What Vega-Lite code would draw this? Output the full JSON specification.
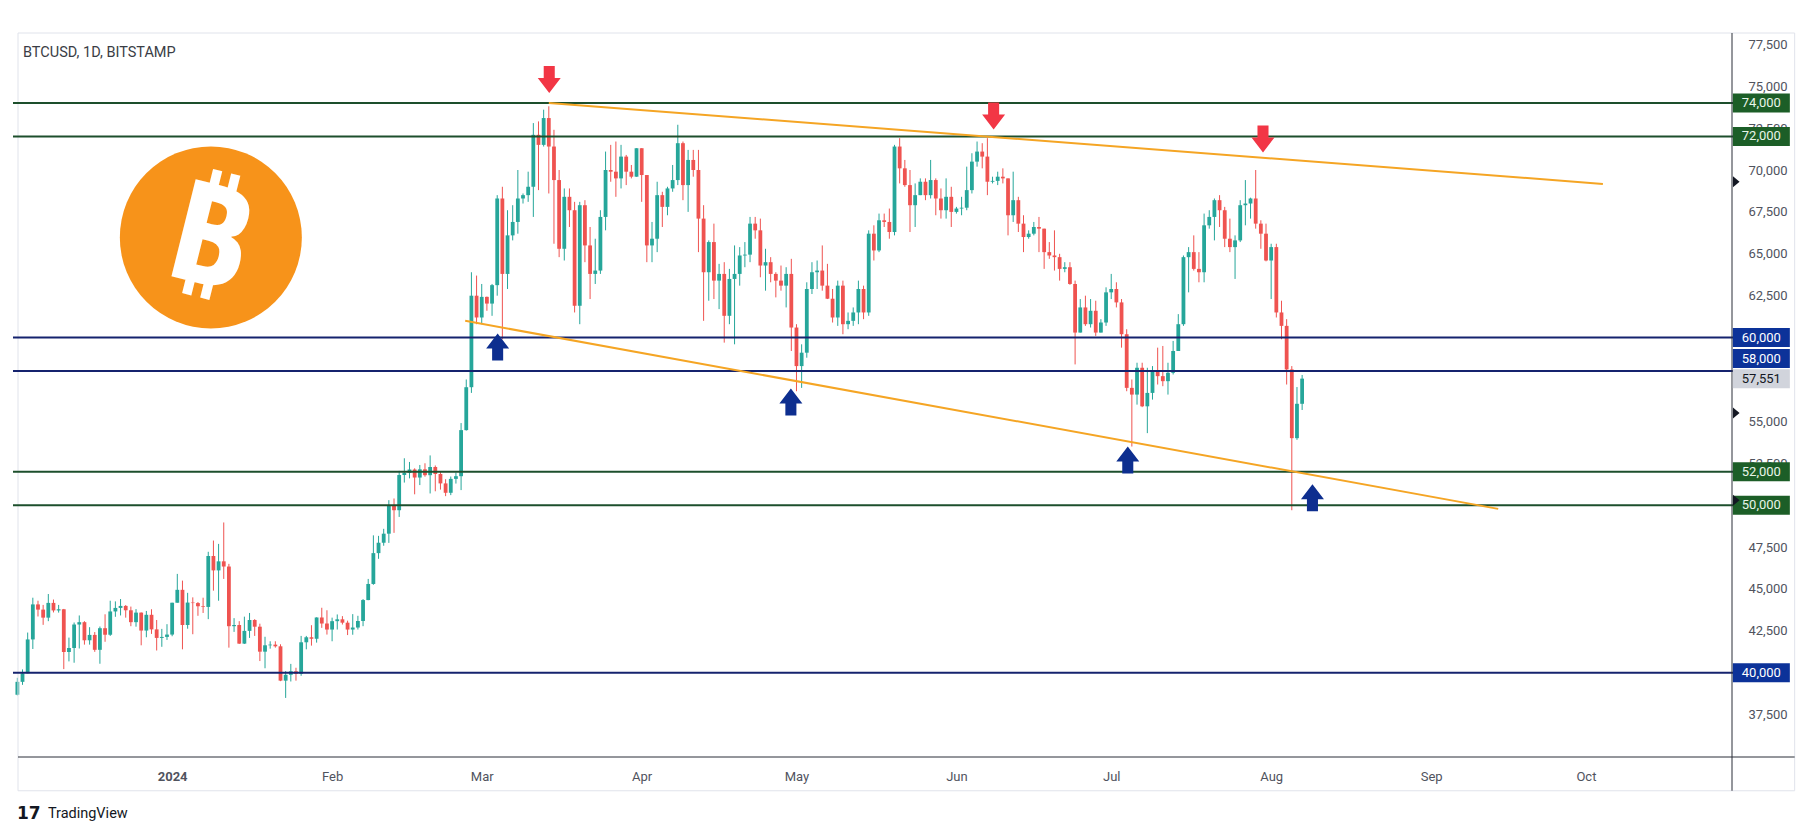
{
"$schema": "https://vega.github.io/schema/vega-lite/v6.json",
"width": 1724, "height": 724,
"autosize": {"type": "none"},
"padding": {"left": 13, "top": 33, "right": 78, "bottom": 79},
"background": "#ffffff",
"config": {"view": {"stroke": null}, "font": "Roboto"},
"title": {"text": "BTCUSD, 1D, BITSTAMP", "anchor": "start", "frame": "group", "offset": -42, "dx": 10, "fontSize": 14.5, "fontWeight": "normal", "font": "Roboto", "color": "#3a3d45", "baseline": "bottom"},
"datasets": {
"one": [{}],
"candles": [
{"d":"2023-12-02","o":38690,"h":39700,"l":38650,"c":39460},
{"d":"2023-12-03","o":39460,"h":40200,"l":39280,"c":39970},
{"d":"2023-12-04","o":39970,"h":42400,"l":39970,"c":41990},
{"d":"2023-12-05","o":41990,"h":44480,"l":41420,"c":44080},
{"d":"2023-12-06","o":44080,"h":44300,"l":43360,"c":43770},
{"d":"2023-12-07","o":43770,"h":44050,"l":42860,"c":43290},
{"d":"2023-12-08","o":43290,"h":44700,"l":43080,"c":44170},
{"d":"2023-12-09","o":44170,"h":44370,"l":43600,"c":43720},
{"d":"2023-12-10","o":43720,"h":44050,"l":43590,"c":43790},
{"d":"2023-12-11","o":43790,"h":43810,"l":40220,"c":41240},
{"d":"2023-12-12","o":41240,"h":42100,"l":40680,"c":41480},
{"d":"2023-12-13","o":41480,"h":43000,"l":40600,"c":42880},
{"d":"2023-12-14","o":42880,"h":43420,"l":41450,"c":43020},
{"d":"2023-12-15","o":43020,"h":43080,"l":41680,"c":41940},
{"d":"2023-12-16","o":41940,"h":42720,"l":41680,"c":42260},
{"d":"2023-12-17","o":42260,"h":42430,"l":41250,"c":41370},
{"d":"2023-12-18","o":41370,"h":42760,"l":40540,"c":42660},
{"d":"2023-12-19","o":42660,"h":43490,"l":41850,"c":42270},
{"d":"2023-12-20","o":42270,"h":44300,"l":42200,"c":43660},
{"d":"2023-12-21","o":43660,"h":44260,"l":43340,"c":43870},
{"d":"2023-12-22","o":43870,"h":44400,"l":43420,"c":43990},
{"d":"2023-12-23","o":43990,"h":44040,"l":43290,"c":43730},
{"d":"2023-12-24","o":43730,"h":43950,"l":42780,"c":43020},
{"d":"2023-12-25","o":43020,"h":43800,"l":42750,"c":43590},
{"d":"2023-12-26","o":43590,"h":43600,"l":41640,"c":42520},
{"d":"2023-12-27","o":42520,"h":43690,"l":42120,"c":43460},
{"d":"2023-12-28","o":43460,"h":43790,"l":42320,"c":42590},
{"d":"2023-12-29","o":42590,"h":43150,"l":41330,"c":42080},
{"d":"2023-12-30","o":42080,"h":42620,"l":41550,"c":42140},
{"d":"2023-12-31","o":42140,"h":42900,"l":41960,"c":42280},
{"d":"2024-01-01","o":42280,"h":44180,"l":42180,"c":44180},
{"d":"2024-01-02","o":44180,"h":45900,"l":44180,"c":44950},
{"d":"2024-01-03","o":44950,"h":45500,"l":41400,"c":42850},
{"d":"2024-01-04","o":42850,"h":44770,"l":42630,"c":44190},
{"d":"2024-01-05","o":44190,"h":44500,"l":42300,"c":44160},
{"d":"2024-01-06","o":44160,"h":44220,"l":43400,"c":43970},
{"d":"2024-01-07","o":43970,"h":44480,"l":43570,"c":43930},
{"d":"2024-01-08","o":43930,"h":47220,"l":43200,"c":46970},
{"d":"2024-01-09","o":46970,"h":47890,"l":44900,"c":46110},
{"d":"2024-01-10","o":46110,"h":47690,"l":44300,"c":46650},
{"d":"2024-01-11","o":46650,"h":48970,"l":45600,"c":46340},
{"d":"2024-01-12","o":46340,"h":46500,"l":41500,"c":42780},
{"d":"2024-01-13","o":42780,"h":43260,"l":42440,"c":42850},
{"d":"2024-01-14","o":42850,"h":43080,"l":41720,"c":41740},
{"d":"2024-01-15","o":41740,"h":43350,"l":41720,"c":42500},
{"d":"2024-01-16","o":42500,"h":43570,"l":42080,"c":43150},
{"d":"2024-01-17","o":43150,"h":43200,"l":42200,"c":42750},
{"d":"2024-01-18","o":42750,"h":42930,"l":40700,"c":41260},
{"d":"2024-01-19","o":41260,"h":42150,"l":40270,"c":41640},
{"d":"2024-01-20","o":41640,"h":41880,"l":41440,"c":41680},
{"d":"2024-01-21","o":41680,"h":41880,"l":41500,"c":41580},
{"d":"2024-01-22","o":41580,"h":41700,"l":39500,"c":39530},
{"d":"2024-01-23","o":39530,"h":40100,"l":38500,"c":39880},
{"d":"2024-01-24","o":39880,"h":40530,"l":39480,"c":40090},
{"d":"2024-01-25","o":40090,"h":40300,"l":39530,"c":39940},
{"d":"2024-01-26","o":39940,"h":42200,"l":39820,"c":41820},
{"d":"2024-01-27","o":41820,"h":42200,"l":41400,"c":42120},
{"d":"2024-01-28","o":42120,"h":42840,"l":41620,"c":42030},
{"d":"2024-01-29","o":42030,"h":43310,"l":41800,"c":43300},
{"d":"2024-01-30","o":43300,"h":43880,"l":42680,"c":42940},
{"d":"2024-01-31","o":42940,"h":43730,"l":42280,"c":42580},
{"d":"2024-02-01","o":42580,"h":43290,"l":41880,"c":43080},
{"d":"2024-02-02","o":43080,"h":43480,"l":42580,"c":43190},
{"d":"2024-02-03","o":43190,"h":43380,"l":42880,"c":42990},
{"d":"2024-02-04","o":42990,"h":43110,"l":42250,"c":42580},
{"d":"2024-02-05","o":42580,"h":43500,"l":42270,"c":42700},
{"d":"2024-02-06","o":42700,"h":43400,"l":42580,"c":43090},
{"d":"2024-02-07","o":43090,"h":44400,"l":42780,"c":44340},
{"d":"2024-02-08","o":44340,"h":45600,"l":44330,"c":45300},
{"d":"2024-02-09","o":45300,"h":48200,"l":45250,"c":47140},
{"d":"2024-02-10","o":47140,"h":48170,"l":46800,"c":47760},
{"d":"2024-02-11","o":47760,"h":48590,"l":47580,"c":48300},
{"d":"2024-02-12","o":48300,"h":50300,"l":47750,"c":49960},
{"d":"2024-02-13","o":49960,"h":50400,"l":48350,"c":49700},
{"d":"2024-02-14","o":49700,"h":52050,"l":49300,"c":51800},
{"d":"2024-02-15","o":51800,"h":52800,"l":51350,"c":51930},
{"d":"2024-02-16","o":51930,"h":52580,"l":51600,"c":52130},
{"d":"2024-02-17","o":52130,"h":52200,"l":50650,"c":51650},
{"d":"2024-02-18","o":51650,"h":52400,"l":51200,"c":52140},
{"d":"2024-02-19","o":52140,"h":52500,"l":51700,"c":51790},
{"d":"2024-02-20","o":51790,"h":52970,"l":50700,"c":52280},
{"d":"2024-02-21","o":52280,"h":52370,"l":50830,"c":51860},
{"d":"2024-02-22","o":51860,"h":52000,"l":50930,"c":51300},
{"d":"2024-02-23","o":51300,"h":51550,"l":50540,"c":50740},
{"d":"2024-02-24","o":50740,"h":51710,"l":50600,"c":51570},
{"d":"2024-02-25","o":51570,"h":51950,"l":51290,"c":51730},
{"d":"2024-02-26","o":51730,"h":54900,"l":50900,"c":54480},
{"d":"2024-02-27","o":54480,"h":57500,"l":54450,"c":57040},
{"d":"2024-02-28","o":57040,"h":63900,"l":56700,"c":62500},
{"d":"2024-02-29","o":62500,"h":63700,"l":60800,"c":61200},
{"d":"2024-03-01","o":61200,"h":63200,"l":60800,"c":62430},
{"d":"2024-03-02","o":62430,"h":62450,"l":61600,"c":62030},
{"d":"2024-03-03","o":62030,"h":63200,"l":61300,"c":63130},
{"d":"2024-03-04","o":63130,"h":68500,"l":62500,"c":68300},
{"d":"2024-03-05","o":68300,"h":69000,"l":59900,"c":63800},
{"d":"2024-03-06","o":63800,"h":67600,"l":62900,"c":66100},
{"d":"2024-03-07","o":66100,"h":67900,"l":65800,"c":66900},
{"d":"2024-03-08","o":66900,"h":70000,"l":66200,"c":68300},
{"d":"2024-03-09","o":68300,"h":68600,"l":68000,"c":68500},
{"d":"2024-03-10","o":68500,"h":69900,"l":68100,"c":69000},
{"d":"2024-03-11","o":69000,"h":72800,"l":67200,"c":72100},
{"d":"2024-03-12","o":72100,"h":72900,"l":68800,"c":71500},
{"d":"2024-03-13","o":71500,"h":73600,"l":71400,"c":73100},
{"d":"2024-03-14","o":73100,"h":73800,"l":68600,"c":71400},
{"d":"2024-03-15","o":71400,"h":72400,"l":65600,"c":69400},
{"d":"2024-03-16","o":69400,"h":70000,"l":64800,"c":65300},
{"d":"2024-03-17","o":65300,"h":68900,"l":64600,"c":68400},
{"d":"2024-03-18","o":68400,"h":68900,"l":66600,"c":67600},
{"d":"2024-03-19","o":67600,"h":68100,"l":61500,"c":61900},
{"d":"2024-03-20","o":61900,"h":68100,"l":60800,"c":67900},
{"d":"2024-03-21","o":67900,"h":68200,"l":64500,"c":65500},
{"d":"2024-03-22","o":65500,"h":66600,"l":62300,"c":63800},
{"d":"2024-03-23","o":63800,"h":65900,"l":63200,"c":64000},
{"d":"2024-03-24","o":64000,"h":67600,"l":63800,"c":67200},
{"d":"2024-03-25","o":67200,"h":71100,"l":66400,"c":70000},
{"d":"2024-03-26","o":70000,"h":71500,"l":69300,"c":69900},
{"d":"2024-03-27","o":69900,"h":71700,"l":68400,"c":69500},
{"d":"2024-03-28","o":69500,"h":71500,"l":68900,"c":70800},
{"d":"2024-03-29","o":70800,"h":70900,"l":69100,"c":69900},
{"d":"2024-03-30","o":69900,"h":70300,"l":69500,"c":69600},
{"d":"2024-03-31","o":69600,"h":71300,"l":69600,"c":71300},
{"d":"2024-04-01","o":71300,"h":71300,"l":68100,"c":69700},
{"d":"2024-04-02","o":69700,"h":69700,"l":64500,"c":65500},
{"d":"2024-04-03","o":65500,"h":66900,"l":64500,"c":65900},
{"d":"2024-04-04","o":65900,"h":69300,"l":65100,"c":68500},
{"d":"2024-04-05","o":68500,"h":68700,"l":66600,"c":67800},
{"d":"2024-04-06","o":67800,"h":69000,"l":67300,"c":68900},
{"d":"2024-04-07","o":68900,"h":70300,"l":68700,"c":69400},
{"d":"2024-04-08","o":69400,"h":72700,"l":69100,"c":71600},
{"d":"2024-04-09","o":71600,"h":71700,"l":68200,"c":69100},
{"d":"2024-04-10","o":69100,"h":71200,"l":67500,"c":70600},
{"d":"2024-04-11","o":70600,"h":71200,"l":69600,"c":70000},
{"d":"2024-04-12","o":70000,"h":71200,"l":65100,"c":67100},
{"d":"2024-04-13","o":67100,"h":67900,"l":61000,"c":63900},
{"d":"2024-04-14","o":63900,"h":65800,"l":62200,"c":65700},
{"d":"2024-04-15","o":65700,"h":66800,"l":62300,"c":63400},
{"d":"2024-04-16","o":63400,"h":64400,"l":61700,"c":63800},
{"d":"2024-04-17","o":63800,"h":64500,"l":59700,"c":61300},
{"d":"2024-04-18","o":61300,"h":64100,"l":60800,"c":63500},
{"d":"2024-04-19","o":63500,"h":65500,"l":59600,"c":63800},
{"d":"2024-04-20","o":63800,"h":65400,"l":63100,"c":64900},
{"d":"2024-04-21","o":64900,"h":65700,"l":64200,"c":64950},
{"d":"2024-04-22","o":64950,"h":67200,"l":64500,"c":66800},
{"d":"2024-04-23","o":66800,"h":67200,"l":65900,"c":66400},
{"d":"2024-04-24","o":66400,"h":67100,"l":63600,"c":64300},
{"d":"2024-04-25","o":64300,"h":65300,"l":62800,"c":64500},
{"d":"2024-04-26","o":64500,"h":64800,"l":63300,"c":63800},
{"d":"2024-04-27","o":63800,"h":63900,"l":62400,"c":63400},
{"d":"2024-04-28","o":63400,"h":64300,"l":62800,"c":63100},
{"d":"2024-04-29","o":63100,"h":64200,"l":61800,"c":63800},
{"d":"2024-04-30","o":63800,"h":64700,"l":59200,"c":60600},
{"d":"2024-05-01","o":60600,"h":60800,"l":56800,"c":58300},
{"d":"2024-05-02","o":58300,"h":59600,"l":57000,"c":59100},
{"d":"2024-05-03","o":59100,"h":63300,"l":58800,"c":62900},
{"d":"2024-05-04","o":62900,"h":64500,"l":62600,"c":63900},
{"d":"2024-05-05","o":63900,"h":64600,"l":62900,"c":64000},
{"d":"2024-05-06","o":64000,"h":65500,"l":62800,"c":63100},
{"d":"2024-05-07","o":63100,"h":64400,"l":62300,"c":62320},
{"d":"2024-05-08","o":62320,"h":62900,"l":60900,"c":61200},
{"d":"2024-05-09","o":61200,"h":63400,"l":60700,"c":63100},
{"d":"2024-05-10","o":63100,"h":63400,"l":60200,"c":60800},
{"d":"2024-05-11","o":60800,"h":61500,"l":60500,"c":61000},
{"d":"2024-05-12","o":61000,"h":61800,"l":60700,"c":61500},
{"d":"2024-05-13","o":61500,"h":63400,"l":60800,"c":62900},
{"d":"2024-05-14","o":62900,"h":63100,"l":61100,"c":61500},
{"d":"2024-05-15","o":61500,"h":66400,"l":61300,"c":66200},
{"d":"2024-05-16","o":66200,"h":66700,"l":64600,"c":65200},
{"d":"2024-05-17","o":65200,"h":67400,"l":65100,"c":67000},
{"d":"2024-05-18","o":67000,"h":67400,"l":66600,"c":66900},
{"d":"2024-05-19","o":66900,"h":67700,"l":65900,"c":66300},
{"d":"2024-05-20","o":66300,"h":71500,"l":66100,"c":71400},
{"d":"2024-05-21","o":71400,"h":71900,"l":69200,"c":70100},
{"d":"2024-05-22","o":70100,"h":70600,"l":69000,"c":69100},
{"d":"2024-05-23","o":69100,"h":70000,"l":66300,"c":67900},
{"d":"2024-05-24","o":67900,"h":69200,"l":66600,"c":68500},
{"d":"2024-05-25","o":68500,"h":69500,"l":68500,"c":69300},
{"d":"2024-05-26","o":69300,"h":69500,"l":68200,"c":68500},
{"d":"2024-05-27","o":68500,"h":70600,"l":68300,"c":69400},
{"d":"2024-05-28","o":69400,"h":69500,"l":67300,"c":68300},
{"d":"2024-05-29","o":68300,"h":68900,"l":67100,"c":67600},
{"d":"2024-05-30","o":67600,"h":69500,"l":67100,"c":68400},
{"d":"2024-05-31","o":68400,"h":69000,"l":66600,"c":67500},
{"d":"2024-06-01","o":67500,"h":67800,"l":67400,"c":67700},
{"d":"2024-06-02","o":67700,"h":68400,"l":67300,"c":67750},
{"d":"2024-06-03","o":67750,"h":70200,"l":67600,"c":68800},
{"d":"2024-06-04","o":68800,"h":71000,"l":68600,"c":70500},
{"d":"2024-06-05","o":70500,"h":71700,"l":70200,"c":71100},
{"d":"2024-06-06","o":71100,"h":71600,"l":70100,"c":70800},
{"d":"2024-06-07","o":70800,"h":71900,"l":68500,"c":69300},
{"d":"2024-06-08","o":69300,"h":69600,"l":69200,"c":69350},
{"d":"2024-06-09","o":69350,"h":69900,"l":69100,"c":69600},
{"d":"2024-06-10","o":69600,"h":70100,"l":69200,"c":69500},
{"d":"2024-06-11","o":69500,"h":69500,"l":66100,"c":67300},
{"d":"2024-06-12","o":67300,"h":69900,"l":66900,"c":68200},
{"d":"2024-06-13","o":68200,"h":68400,"l":66300,"c":66800},
{"d":"2024-06-14","o":66800,"h":67300,"l":65100,"c":66000},
{"d":"2024-06-15","o":66000,"h":66400,"l":65900,"c":66200},
{"d":"2024-06-16","o":66200,"h":66900,"l":66100,"c":66600},
{"d":"2024-06-17","o":66600,"h":67200,"l":65100,"c":66500},
{"d":"2024-06-18","o":66500,"h":66500,"l":64100,"c":65100},
{"d":"2024-06-19","o":65100,"h":65700,"l":64700,"c":64900},
{"d":"2024-06-20","o":64900,"h":66400,"l":64000,"c":64800},
{"d":"2024-06-21","o":64800,"h":65000,"l":63400,"c":64100},
{"d":"2024-06-22","o":64100,"h":64500,"l":63900,"c":64200},
{"d":"2024-06-23","o":64200,"h":64500,"l":63150,"c":63200},
{"d":"2024-06-24","o":63200,"h":63400,"l":58400,"c":60300},
{"d":"2024-06-25","o":60300,"h":62300,"l":60300,"c":61800},
{"d":"2024-06-26","o":61800,"h":62500,"l":60700,"c":60800},
{"d":"2024-06-27","o":60800,"h":62300,"l":60600,"c":61600},
{"d":"2024-06-28","o":61600,"h":62200,"l":60100,"c":60300},
{"d":"2024-06-29","o":60300,"h":61100,"l":60300,"c":60900},
{"d":"2024-06-30","o":60900,"h":63000,"l":60700,"c":62700},
{"d":"2024-07-01","o":62700,"h":63800,"l":62300,"c":62900},
{"d":"2024-07-02","o":62900,"h":63300,"l":61800,"c":62100},
{"d":"2024-07-03","o":62100,"h":62300,"l":59400,"c":60200},
{"d":"2024-07-04","o":60200,"h":60500,"l":56800,"c":57000},
{"d":"2024-07-05","o":57000,"h":57500,"l":53500,"c":56600},
{"d":"2024-07-06","o":56600,"h":58500,"l":56000,"c":58200},
{"d":"2024-07-07","o":58200,"h":58500,"l":55850,"c":55900},
{"d":"2024-07-08","o":55900,"h":58200,"l":54300,"c":56700},
{"d":"2024-07-09","o":56700,"h":58300,"l":56300,"c":58000},
{"d":"2024-07-10","o":58000,"h":59400,"l":57200,"c":57700},
{"d":"2024-07-11","o":57700,"h":59500,"l":57100,"c":57400},
{"d":"2024-07-12","o":57400,"h":58500,"l":56600,"c":57900},
{"d":"2024-07-13","o":57900,"h":59800,"l":57800,"c":59200},
{"d":"2024-07-14","o":59200,"h":61400,"l":59200,"c":60800},
{"d":"2024-07-15","o":60800,"h":64900,"l":60700,"c":64800},
{"d":"2024-07-16","o":64800,"h":65400,"l":62700,"c":65100},
{"d":"2024-07-17","o":65100,"h":66100,"l":64000,"c":64100},
{"d":"2024-07-18","o":64100,"h":65100,"l":63300,"c":63900},
{"d":"2024-07-19","o":63900,"h":67400,"l":63300,"c":66700},
{"d":"2024-07-20","o":66700,"h":67600,"l":66500,"c":67200},
{"d":"2024-07-21","o":67200,"h":68300,"l":65800,"c":68200},
{"d":"2024-07-22","o":68200,"h":68500,"l":66600,"c":67600},
{"d":"2024-07-23","o":67600,"h":67800,"l":65400,"c":65900},
{"d":"2024-07-24","o":65900,"h":67100,"l":65100,"c":65400},
{"d":"2024-07-25","o":65400,"h":66100,"l":63500,"c":65800},
{"d":"2024-07-26","o":65800,"h":68200,"l":65700,"c":67900},
{"d":"2024-07-27","o":67900,"h":69400,"l":66700,"c":68000},
{"d":"2024-07-28","o":68000,"h":68350,"l":67100,"c":68300},
{"d":"2024-07-29","o":68300,"h":70000,"l":66500,"c":66800},
{"d":"2024-07-30","o":66800,"h":67000,"l":65300,"c":66200},
{"d":"2024-07-31","o":66200,"h":66800,"l":64550,"c":64600},
{"d":"2024-08-01","o":64600,"h":65600,"l":62300,"c":65400},
{"d":"2024-08-02","o":65400,"h":65600,"l":61200,"c":61500},
{"d":"2024-08-03","o":61500,"h":62200,"l":59900,"c":60700},
{"d":"2024-08-04","o":60700,"h":61100,"l":57200,"c":58100},
{"d":"2024-08-05","o":58100,"h":58300,"l":49700,"c":54000},
{"d":"2024-08-06","o":54000,"h":57050,"l":53900,"c":56050},
{"d":"2024-08-07","o":56050,"h":57770,"l":55680,"c":57551}
],
"levels": [
{"p":74000,"g":"green"},{"p":72000,"g":"green"},{"p":60000,"g":"blue"},{"p":58000,"g":"blue"},
{"p":52000,"g":"green"},{"p":50000,"g":"green"},{"p":40000,"g":"blue"}
],
"tags": [
{"p":74000,"g":"green"},{"p":72000,"g":"green"},{"p":60000,"g":"blue"},{"p":58000,"g":"blue"},
{"p":57551,"g":"cur"},{"p":52000,"g":"green"},{"p":50000,"g":"green"},{"p":40000,"g":"blue"}
],
"trend": [
{"n":"upper","d":"2024-03-14T00:00:00Z","p":74000},{"n":"upper","d":"2024-10-04T07:00:00Z","p":69170},
{"n":"lower","d":"2024-02-26T19:00:00Z","p":61000},{"n":"lower","d":"2024-09-14T00:00:00Z","p":49780}
],
"arrows": [
{"k":"down","d":"2024-03-14T02:00:00Z","p":75400},
{"k":"down","d":"2024-06-08T05:00:00Z","p":73220},
{"k":"down","d":"2024-07-30T10:00:00Z","p":71850},
{"k":"up","d":"2024-03-04T02:00:00Z","p":59440},
{"k":"up","d":"2024-04-29T22:00:00Z","p":56160},
{"k":"up","d":"2024-07-04T05:00:00Z","p":52700},
{"k":"up","d":"2024-08-09T00:00:00Z","p":50440}
]
},
"layer": [
{"data": {"name": "candles"},
 "mark": {"type": "rule", "clip": true, "strokeWidth": 1},
 "encoding": {
  "x": {"field": "d", "type": "temporal",
   "scale": {"type": "utc", "nice": false, "domain": [{"year":2023,"month":12,"date":2,"hours":3,"utc":true},{"year":2024,"month":10,"date":29,"hours":7,"minutes":30,"utc":true}]},
   "axis": {"title": null, "orient": "bottom", "domain": false, "ticks": false, "tickSize": 0, "grid": false,
    "values": [{"year":2024,"month":1,"date":1,"utc":true},{"year":2024,"month":2,"date":1,"utc":true},{"year":2024,"month":3,"date":1,"utc":true},{"year":2024,"month":4,"date":1,"utc":true},{"year":2024,"month":5,"date":1,"utc":true},{"year":2024,"month":6,"date":1,"utc":true},{"year":2024,"month":7,"date":1,"utc":true},{"year":2024,"month":8,"date":1,"utc":true},{"year":2024,"month":9,"date":1,"utc":true},{"year":2024,"month":10,"date":1,"utc":true}],
    "labelExpr": "utcFormat(datum.value, '%m') == '01' ? utcFormat(datum.value, '%Y') : utcFormat(datum.value, '%b')",
    "labelFontWeight": {"condition": {"test": "utcFormat(datum.value, '%m') == '01'", "value": "bold"}, "value": "normal"},
    "labelFont": "Roboto", "labelFontSize": 13, "labelColor": "#50535e", "labelPadding": 13, "labelBaseline": "top", "labelOverlap": false, "labelFlush": false},
   "title": null},
  "y": {"field": "l", "type": "quantitative",
   "scale": {"domain": [34975, 78175], "nice": false, "zero": false},
   "axis": {"title": null, "orient": "right", "domain": false, "ticks": false, "tickSize": 0, "grid": false,
    "values": [37500,42500,45000,47500,52500,55000,62500,65000,67500,70000,72500,75000,77500],
    "labelExpr": "format(datum.value, ',')", "labelFont": "Roboto", "labelFontSize": 13, "labelColor": "#50535e", "labelPadding": 11, "labelAlign": "left", "labelBaseline": "middle", "labelOverlap": false, "labelFlush": false},
   "title": null},
  "y2": {"field": "h"},
  "color": {"condition": {"test": "datum.c >= datum.o", "value": "#26a69a"}, "value": "#ef5350"}
 }},
{"data": {"name": "candles"},
 "mark": {"type": "bar", "clip": true, "size": 3.8},
 "encoding": {
  "x": {"field": "d", "type": "temporal"},
  "y": {"field": "o", "type": "quantitative"},
  "y2": {"field": "c"},
  "color": {"condition": {"test": "datum.c >= datum.o", "value": "#26a69a"}, "value": "#ef5350"}
 }},
{"data": {"name": "one"},
 "mark": {"type": "rule", "color": "#e0e3eb", "strokeWidth": 1},
 "encoding": {"x": {"datum": {"year":2023,"month":12,"date":2,"hours":3,"utc":true}, "type": "temporal"}, "x2": {"datum": {"year":2024,"month":11,"date":10,"hours":11,"utc":true}}, "y": {"datum": 78175}}},
{"data": {"name": "one"},
 "mark": {"type": "rule", "color": "#e0e3eb", "strokeWidth": 1},
 "encoding": {"x": {"datum": {"year":2023,"month":12,"date":2,"hours":3,"utc":true}, "type": "temporal"}, "x2": {"datum": {"year":2024,"month":11,"date":10,"hours":11,"utc":true}}, "y": {"datum": 32960}}},
{"data": {"name": "one"},
 "mark": {"type": "rule", "color": "#e0e3eb", "strokeWidth": 1},
 "encoding": {"x": {"datum": {"year":2023,"month":12,"date":2,"hours":3,"utc":true}, "type": "temporal"}, "y": {"datum": 78175}, "y2": {"datum": 32960}}},
{"data": {"name": "one"},
 "mark": {"type": "rule", "color": "#e0e3eb", "strokeWidth": 1},
 "encoding": {"x": {"datum": {"year":2024,"month":11,"date":10,"hours":11,"utc":true}, "type": "temporal"}, "y": {"datum": 78175}, "y2": {"datum": 32960}}},
{"data": {"name": "levels"},
 "mark": {"type": "rule", "strokeWidth": 2},
 "encoding": {
  "y": {"field": "p", "type": "quantitative"},
  "color": {"condition": {"test": "datum.g == 'green'", "value": "#1d4f2c"}, "value": "#15236e"}
 }},
{"data": {"name": "trend"},
 "mark": {"type": "line", "strokeWidth": 2, "color": "#f5a524"},
 "encoding": {
  "x": {"field": "d", "type": "temporal"},
  "y": {"field": "p", "type": "quantitative"},
  "detail": {"field": "n"}
 }},
{"data": {"name": "arrows"},
 "transform": [{"filter": "datum.k == 'down'"}],
 "mark": {"type": "point", "filled": true, "opacity": 1, "color": "#f23645", "size": 529, "shape": "M-0.48,-1.17L0.48,-1.17L0.48,-0.13L1,-0.13L0,1.17L-1,-0.13L-0.48,-0.13Z"},
 "encoding": {"x": {"field": "d", "type": "temporal"}, "y": {"field": "p", "type": "quantitative"}}},
{"data": {"name": "arrows"},
 "transform": [{"filter": "datum.k == 'up'"}],
 "mark": {"type": "point", "filled": true, "opacity": 1, "color": "#0d2e8f", "size": 529, "shape": "M-0.48,1.17L0.48,1.17L0.48,0.13L1,0.13L0,-1.17L-1,0.13L-0.48,0.13Z"},
 "encoding": {"x": {"field": "d", "type": "temporal"}, "y": {"field": "p", "type": "quantitative"}}},
{"data": {"name": "one"},
 "mark": {"type": "point", "filled": true, "opacity": 1, "color": "#f7931a", "shape": "circle", "size": 33124},
 "encoding": {"x": {"datum": {"year":2024,"month":1,"date":8,"hours":12,"utc":true}, "type": "temporal"}, "y": {"datum": 65980}}},
{"data": {"name": "one"},
 "mark": {"type": "text", "text": "₿", "font": "Noto Sans", "fontSize": 140, "fontWeight": "bold", "color": "#ffffff", "angle": 14, "align": "center", "baseline": "middle"},
 "encoding": {"x": {"datum": {"year":2024,"month":1,"date":8,"hours":0,"utc":true}, "type": "temporal"}, "y": {"datum": 65700}}},
{"data": {"name": "one"},
 "mark": {"type": "rule", "color": "#2a2e39", "strokeWidth": 1},
 "encoding": {"x": {"datum": {"year":2023,"month":12,"date":2,"hours":3,"utc":true}, "type": "temporal"}, "x2": {"datum": {"year":2024,"month":11,"date":10,"hours":11,"utc":true}}, "y": {"datum": 34975}}},
{"data": {"name": "one"},
 "mark": {"type": "rule", "color": "#2a2e39", "strokeWidth": 1},
 "encoding": {"x": {"datum": {"year":2024,"month":10,"date":29,"hours":7,"minutes":30,"utc":true}, "type": "temporal"}, "y": {"datum": 78175}, "y2": {"datum": 32960}}},
{"data": {"name": "tags"},
 "mark": {"type": "point", "filled": true, "opacity": 1, "size": 361, "shape": "M-3,-1L3,-1L3,1L-3,1Z", "yOffset": {"expr": "datum.p == 58000 ? -12.5 : 0"}},
 "encoding": {
  "x": {"datum": {"year":2024,"month":11,"date":4,"utc":true}, "type": "temporal"},
  "y": {"field": "p", "type": "quantitative"},
  "color": {"condition": [{"test": "datum.g == 'green'", "value": "#1c5e27"}, {"test": "datum.g == 'blue'", "value": "#0c3299"}], "value": "#d1d4dc"}
 }},
{"data": {"name": "tags"},
 "mark": {"type": "text", "font": "Roboto", "fontSize": 13, "align": "center", "baseline": "middle", "yOffset": {"expr": "datum.p == 58000 ? -12.5 : 0"}},
 "encoding": {
  "x": {"datum": {"year":2024,"month":11,"date":4,"utc":true}, "type": "temporal"},
  "y": {"field": "p", "type": "quantitative"},
  "text": {"field": "p", "type": "quantitative", "format": ","},
  "color": {"condition": [{"test": "datum.g == 'green'", "value": "#e8f5e9"}, {"test": "datum.g == 'blue'", "value": "#ffffff"}], "value": "#131722"}
 }},
{"data": {"values": [{"p": 69300}, {"p": 55500}, {"p": 50300}]},
 "mark": {"type": "point", "filled": true, "opacity": 1, "color": "#131722", "size": 121, "shape": "M-0.6,-1L0.6,0L-0.6,1Z"},
 "encoding": {"x": {"datum": {"year":2024,"month":10,"date":30,"hours":3,"minutes":20,"utc":true}, "type": "temporal"}, "y": {"field": "p", "type": "quantitative"}}},
{"data": {"name": "one"},
 "mark": {"type": "text", "text": "17", "font": "DejaVu Sans", "fontSize": 17, "fontWeight": 900, "color": "#131722", "align": "left", "baseline": "middle"},
 "encoding": {"x": {"datum": {"year":2023,"month":12,"date":1,"hours":22,"utc":true}, "type": "temporal"}, "y": {"datum": 31590}}},
{"data": {"name": "one"},
 "mark": {"type": "text", "text": "TradingView", "font": "Roboto", "fontSize": 14.5, "color": "#131722", "align": "left", "baseline": "middle"},
 "encoding": {"x": {"datum": {"year":2023,"month":12,"date":7,"hours":22,"utc":true}, "type": "temporal"}, "y": {"datum": 31590}}}
]
}
